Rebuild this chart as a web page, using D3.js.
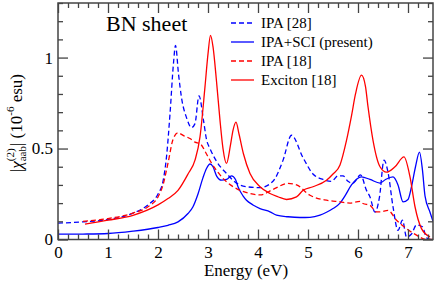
<!DOCTYPE html>
<html>
<head>
<meta charset="utf-8">
<script src="https://cdn.jsdelivr.net/npm/d3@7"></script>
<style>
  body { margin: 0; background: #fff; }
  svg { display: block; }
</style>
</head>
<body>
<svg id="chart" width="436" height="281"></svg>
<script>
// energies (eV) and |chi(2)| values
var ipa28E = [0, 0.5, 1, 1.5, 1.8, 2.0, 2.1, 2.17, 2.24, 2.31, 2.35, 2.41, 2.47, 2.57, 2.67, 2.74, 2.82, 2.91, 2.97, 3.04, 3.17, 3.37, 3.57, 3.77, 4.04, 4.3, 4.5, 4.67, 4.9, 5.1, 5.3, 5.47, 5.6, 5.7, 5.8, 5.9, 6.05, 6.17, 6.24, 6.34, 6.43, 6.52, 6.6, 6.7, 6.8, 6.89, 6.97, 7.07, 7.17, 7.29, 7.37, 7.45];
var ipa28V = [0.09, 0.097, 0.11, 0.145, 0.19, 0.25, 0.32, 0.454, 0.69, 0.97, 1.067, 0.91, 0.78, 0.67, 0.615, 0.637, 0.79, 0.655, 0.55, 0.5, 0.43, 0.363, 0.31, 0.29, 0.285, 0.32, 0.435, 0.573, 0.45, 0.36, 0.33, 0.32, 0.35, 0.35, 0.32, 0.31, 0.355, 0.27, 0.234, 0.15, 0.234, 0.436, 0.37, 0.18, 0.05, 0.106, 0.014, 0.03, 0.08, 0.07, 0.01, 0.0];

var sciE = [0, 0.5, 1, 1.5, 2, 2.2, 2.4, 2.6, 2.7, 2.8, 2.9, 2.97, 3.04, 3.1, 3.17, 3.27, 3.37, 3.47, 3.55, 3.6, 3.7, 3.77, 3.9, 4.04, 4.24, 4.37, 4.6, 4.84, 5.04, 5.24, 5.37, 5.5, 5.64, 5.74, 5.87, 6.07, 6.24, 6.44, 6.55, 6.7, 6.8, 6.9, 7.0, 7.07, 7.15, 7.23, 7.29, 7.34, 7.44, 7.5];
var sciV = [0.029, 0.03, 0.033, 0.046, 0.066, 0.078, 0.097, 0.143, 0.18, 0.25, 0.34, 0.39, 0.415, 0.4, 0.35, 0.326, 0.33, 0.35, 0.33, 0.29, 0.24, 0.216, 0.19, 0.17, 0.152, 0.134, 0.125, 0.121, 0.122, 0.134, 0.15, 0.17, 0.2, 0.24, 0.3, 0.344, 0.33, 0.31, 0.33, 0.344, 0.3, 0.207, 0.22, 0.29, 0.4, 0.48, 0.38, 0.24, 0.15, 0.1];

var ipa18E = [0.5, 1, 1.5, 1.8, 2.0, 2.1, 2.2, 2.3, 2.4, 2.52, 2.64, 2.74, 2.84, 2.97, 3.07, 3.17, 3.37, 3.57, 3.84, 4.04, 4.3, 4.6, 4.77, 5.04, 5.37, 5.64, 5.84, 6.04, 6.1, 6.24, 6.37, 6.44, 6.6, 6.77, 6.97, 7.17, 7.37, 7.5];
var ipa18V = [0.1, 0.115, 0.145, 0.18, 0.234, 0.3, 0.42, 0.55, 0.586, 0.57, 0.555, 0.535, 0.527, 0.47, 0.42, 0.38, 0.317, 0.28, 0.253, 0.245, 0.275, 0.308, 0.3, 0.243, 0.216, 0.207, 0.2, 0.21, 0.198, 0.188, 0.152, 0.152, 0.16, 0.106, 0.06, 0.024, 0.0, 0.0];

var excE = [0.54, 1, 1.5, 2, 2.2, 2.4, 2.6, 2.74, 2.84, 2.94, 3.0, 3.05, 3.1, 3.17, 3.24, 3.3, 3.37, 3.45, 3.5, 3.56, 3.62, 3.71, 3.84, 4.04, 4.24, 4.4, 4.57, 4.77, 4.9, 5.1, 5.37, 5.5, 5.64, 5.77, 5.87, 5.95, 6.07, 6.15, 6.2, 6.3, 6.44, 6.57, 6.74, 6.92, 7.04, 7.14, 7.27, 7.44];
var excV = [0.084, 0.106, 0.133, 0.19, 0.225, 0.27, 0.36, 0.436, 0.564, 0.84, 1.02, 1.122, 1.06, 0.87, 0.655, 0.5, 0.418, 0.52, 0.6, 0.645, 0.58, 0.47, 0.363, 0.29, 0.253, 0.235, 0.22, 0.234, 0.27, 0.29, 0.326, 0.36, 0.41, 0.545, 0.68, 0.8, 0.903, 0.84, 0.73, 0.545, 0.4, 0.37, 0.4, 0.454, 0.344, 0.18, 0.06, 0.014];

var seriesNames = ["IPA [28]", "IPA+SCI (present)", "IPA [18]", "Exciton [18]"];
var xTicks = [0, 1, 2, 3, 4, 5, 6, 7];
var yTicks = [0, 0.5, 1];

(function() {
  "use strict";
  var series = [
    {name: seriesNames[0], e: ipa28E, v: ipa28V, color: "#0000ff", dash: "5,3"},
    {name: seriesNames[1], e: sciE, v: sciV, color: "#0000ff", dash: null},
    {name: seriesNames[2], e: ipa18E, v: ipa18V, color: "#ff0000", dash: "5,3"},
    {name: seriesNames[3], e: excE, v: excV, color: "#ff0000", dash: null}
  ];

  var svg = d3.select("#chart");
  var pLeft = 58, pRight = 433, pTop = 3, pBottom = 239.5;
  var serif = "Liberation Serif";
  var axisColor = "#444";

  var x = d3.scaleLinear().domain([0, 7.5]).range([pLeft, pRight]);
  var y = d3.scaleLinear().domain([0, 1.3]).range([pBottom, pTop]);

  svg.append("clipPath").attr("id", "clip")
    .append("rect").attr("x", pLeft).attr("y", pTop)
    .attr("width", pRight - pLeft).attr("height", pBottom - pTop);

  var line = d3.line()
    .x(function(d) { return x(d[0]); })
    .y(function(d) { return y(d[1]); })
    .curve(d3.curveMonotoneX);

  series.forEach(function(s) {
    var pts = s.e.map(function(e, i) { return [e, s.v[i]]; });
    svg.append("path")
      .attr("clip-path", "url(#clip)")
      .attr("d", line(pts))
      .attr("fill", "none")
      .attr("stroke", s.color)
      .attr("stroke-width", 1.3)
      .attr("stroke-dasharray", s.dash);
  });

  // inward ticks on all four sides, minor every 0.2 (x) / 0.1 (y)
  var minorX = d3.range(0, 7.5001, 0.2).filter(function(t) { return Math.abs(t - Math.round(t)) > 1e-6; });
  var minorY = d3.range(0, 1.3001, 0.1).filter(function(t) { return Math.abs(t * 2 - Math.round(t * 2)) > 1e-6; });

  function styleAxis(g) {
    g.attr("font-family", serif).attr("font-size", 17);
    g.selectAll("path.domain").remove();
    g.selectAll("line").attr("stroke", axisColor).attr("stroke-width", 1.3);
    g.selectAll("text").attr("fill", "#000").style("font-family", serif);
  }

  function addAxis(axis, tx, ty) {
    return svg.append("g").attr("transform", "translate(" + tx + "," + ty + ")")
      .call(axis).call(styleAxis);
  }

  var xAxisG = addAxis(d3.axisBottom(x).tickValues(xTicks).tickFormat(d3.format("d")).tickSizeInner(-10), 0, pBottom);
  xAxisG.selectAll(".tick text").attr("y", 6);
  addAxis(d3.axisBottom(x).tickValues(minorX).tickFormat("").tickSizeInner(-5), 0, pBottom);
  addAxis(d3.axisTop(x).tickValues(xTicks).tickFormat("").tickSizeInner(-10), 0, pTop);
  addAxis(d3.axisTop(x).tickValues(minorX).tickFormat("").tickSizeInner(-5), 0, pTop);
  var yAxisG = addAxis(d3.axisLeft(y).tickValues(yTicks)
    .tickFormat(function(d) { return d === 0.5 ? "0.5" : d3.format("d")(d); })
    .tickSizeInner(-10), pLeft, 0);
  yAxisG.selectAll(".tick text").attr("x", -5);
  addAxis(d3.axisLeft(y).tickValues(minorY).tickFormat("").tickSizeInner(-5), pLeft, 0);
  addAxis(d3.axisRight(y).tickValues(yTicks).tickFormat("").tickSizeInner(-10), pRight, 0);
  addAxis(d3.axisRight(y).tickValues(minorY).tickFormat("").tickSizeInner(-5), pRight, 0);

  svg.append("rect")
    .attr("x", pLeft).attr("y", pTop)
    .attr("width", pRight - pLeft).attr("height", pBottom - pTop)
    .attr("fill", "none").attr("stroke", axisColor).attr("stroke-width", 1.5);

  svg.append("text")
    .attr("x", 246).attr("y", 276)
    .attr("text-anchor", "middle")
    .style("font-family", serif).style("font-size", "17px")
    .text("Energy (eV)");

  var yl = svg.append("text")
    .attr("transform", "translate(22,123) rotate(-90)")
    .attr("text-anchor", "middle")
    .style("font-family", serif).style("font-size", "17px");
  yl.append("tspan").text("|");
  yl.append("tspan").style("font-style", "italic").text("χ");
  yl.append("tspan").attr("dy", -8).style("font-size", "11px").text("(2)");
  yl.append("tspan").attr("dx", -13).attr("dy", 12).style("font-size", "11px").text("aab");
  yl.append("tspan").attr("dy", -4).text("|  (10");
  yl.append("tspan").attr("dy", -8).style("font-size", "11px").text("-6");
  yl.append("tspan").attr("dy", 8).text(" esu)");

  svg.append("text").attr("x", 106).attr("y", 31)
    .style("font-family", serif).style("font-size", "22px").text("BN sheet");

  series.forEach(function(s, i) {
    var ly = 23 + i * 19;
    svg.append("line")
      .attr("x1", 231).attr("x2", 254).attr("y1", ly).attr("y2", ly)
      .attr("stroke", s.color).attr("stroke-width", 1.3)
      .attr("stroke-dasharray", s.dash);
    svg.append("text").attr("x", 261).attr("y", ly + 5)
      .style("font-family", serif).style("font-size", "15px").text(s.name);
  });
})();
</script>
</body>
</html>
